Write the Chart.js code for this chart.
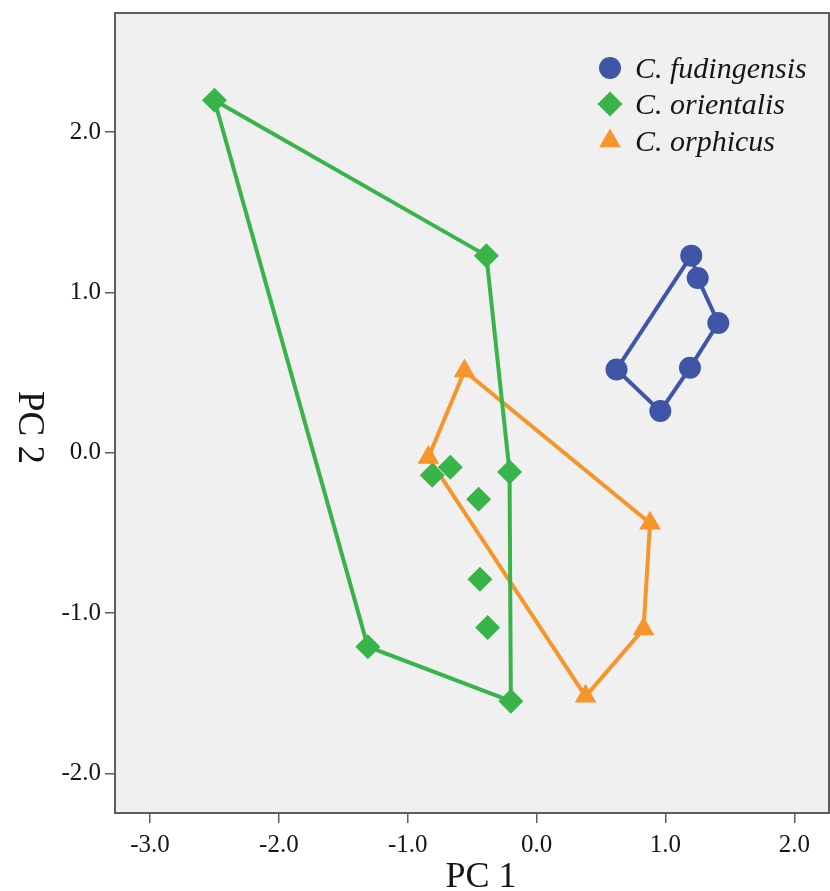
<!DOCTYPE html>
<html><head><meta charset="utf-8">
<script src="https://cdn.jsdelivr.net/npm/chart.js@4.4.1/dist/chart.umd.min.js"></script>
<style>html,body{margin:0;padding:0;background:#fff;} canvas{display:block;}</style>
</head><body>
<canvas id="c" width="830" height="891"></canvas>
<script>
// ---- data ----
const speciesNames = ['C. fudingensis', 'C. orientalis', 'C. orphicus'];
const fudX = [1.20, 1.25, 1.41, 1.19, 0.96, 0.62];
const fudY = [1.23, 1.09, 0.81, 0.53, 0.26, 0.52];
const fudHull = [0, 1, 2, 3, 4, 5];
const oriX = [-2.50, -0.39, -0.21, -0.20, -1.31, -0.81, -0.67, -0.45, -0.44, -0.38];
const oriY = [2.20, 1.23, -0.12, -1.55, -1.21, -0.14, -0.09, -0.29, -0.79, -1.09];
const oriHull = [0, 1, 2, 3, 4];
const orpX = [-0.56, 0.88, 0.83, 0.38, -0.84];
const orpY = [0.51, -0.44, -1.10, -1.52, -0.03];
const orpHull = [0, 1, 2, 3, 4];
const xTicks = [-3, -2, -1, 0, 1, 2];
const yTicks = [-2, -1, 0, 1, 2];
const xTitle = 'PC 1';
const yTitle = 'PC 2';

// ---- styles ----
const colors = ['#3f56a7', '#38b449', '#f6962a'];
const styles = ['circle', 'rectRot', 'triangle'];
const radii = [11, 12.5, 12.5];

function pts(xs, ys) { return xs.map((x, i) => ({x: x, y: ys[i]})); }
function hull(xs, ys, idx) {
  const a = idx.map(i => ({x: xs[i], y: ys[i]}));
  a.push({x: xs[idx[0]], y: ys[idx[0]]});
  return a;
}
const groups = [[fudX, fudY, fudHull], [oriX, oriY, oriHull], [orpX, orpY, orpHull]];
const datasets = [];
groups.forEach((g, k) => {
  datasets.push({
    label: speciesNames[k] + ' hull', data: hull(g[0], g[1], g[2]), showLine: true,
    borderColor: colors[k], borderWidth: 4, pointRadius: 0, fill: false, order: 10 + k
  });
});
groups.forEach((g, k) => {
  datasets.push({
    label: speciesNames[k], data: pts(g[0], g[1]), showLine: false,
    pointStyle: styles[k], pointRadius: radii[k], backgroundColor: colors[k],
    borderColor: colors[k], borderWidth: 0, order: 3 - k
  });
});

const frame = {
  id: 'frame',
  beforeDraw(chart) {
    const {ctx, chartArea: a} = chart;
    ctx.save();
    ctx.fillStyle = '#f0f0f0';
    ctx.fillRect(a.left, a.top, a.right - a.left, a.bottom - a.top);
    ctx.restore();
  },
  afterDraw(chart) {
    const {ctx, chartArea: a} = chart;
    ctx.save();
    ctx.strokeStyle = '#5e5e5e';
    ctx.lineWidth = 2;
    ctx.strokeRect(a.left, a.top, a.right - a.left, a.bottom - a.top);
    // legend
    const rows = [55, 91, 128];
    speciesNames.forEach((name, k) => {
      const y = a.top + rows[k];
      const mx = a.right - 219;
      ctx.fillStyle = colors[k];
      if (Chart.helpers && Chart.helpers.drawPoint) {
        Chart.helpers.drawPoint(ctx, {pointStyle: styles[k], radius: radii[k], rotation: 0, borderWidth: 0}, mx, y);
      }
      ctx.fillStyle = '#151515';
      ctx.font = 'italic 30px "Liberation Serif"';
      ctx.textAlign = 'left';
      ctx.textBaseline = 'middle';
      ctx.fillText(name, a.right - 194, y + 2);
    });
    // axis titles
    ctx.fillStyle = '#151515';
    ctx.font = '36px "Liberation Serif"';
    ctx.textAlign = 'center';
    ctx.textBaseline = 'alphabetic';
    ctx.fillText(xTitle, 481, 886.5);
    ctx.save();
    ctx.translate(19, 427.5);
    ctx.rotate(Math.PI / 2);
    ctx.font = '37px "Liberation Serif"';
    ctx.textBaseline = 'alphabetic';
    ctx.fillText(yTitle, 0, 0);
    ctx.restore();
    ctx.restore();
  }
};

function noPad(s) { s.paddingLeft = 0; s.paddingRight = 0; s.paddingTop = 0; s.paddingBottom = 0; }
const tickFont = {family: '"Liberation Serif"', size: 25};
new Chart(document.getElementById('c'), {
  type: 'scatter',
  data: {datasets: datasets},
  options: {
    responsive: false, animation: false, events: [],
    layout: {autoPadding: false, padding: {top: 13, right: 1, left: 0, bottom: 0}},
    plugins: {legend: {display: false}, tooltip: {enabled: false}},
    scales: {
      x: {
        type: 'linear', min: -3.272, max: 2.269,
        afterBuildTicks: s => { s.ticks = xTicks.map(v => ({value: v})); },
        afterFit: s => { s.height = 78; noPad(s); },
        ticks: {font: tickFont, color: '#151515', padding: 7, callback: v => v.toFixed(1), maxRotation: 0, autoSkip: false},
        grid: {drawOnChartArea: false, drawTicks: true, tickLength: 10, color: '#5e5e5e', lineWidth: 1.5},
        border: {display: false}
      },
      y: {
        type: 'linear', min: -2.248, max: 2.744,
        afterBuildTicks: s => { s.ticks = yTicks.map(v => ({value: v})); },
        afterFit: s => { s.width = 115; noPad(s); },
        ticks: {font: tickFont, color: '#151515', padding: 4, callback: v => v.toFixed(1), autoSkip: false},
        grid: {drawOnChartArea: false, drawTicks: true, tickLength: 10, color: '#5e5e5e', lineWidth: 1.5},
        border: {display: false}
      }
    }
  },
  plugins: [frame]
});
</script>
</body></html>
